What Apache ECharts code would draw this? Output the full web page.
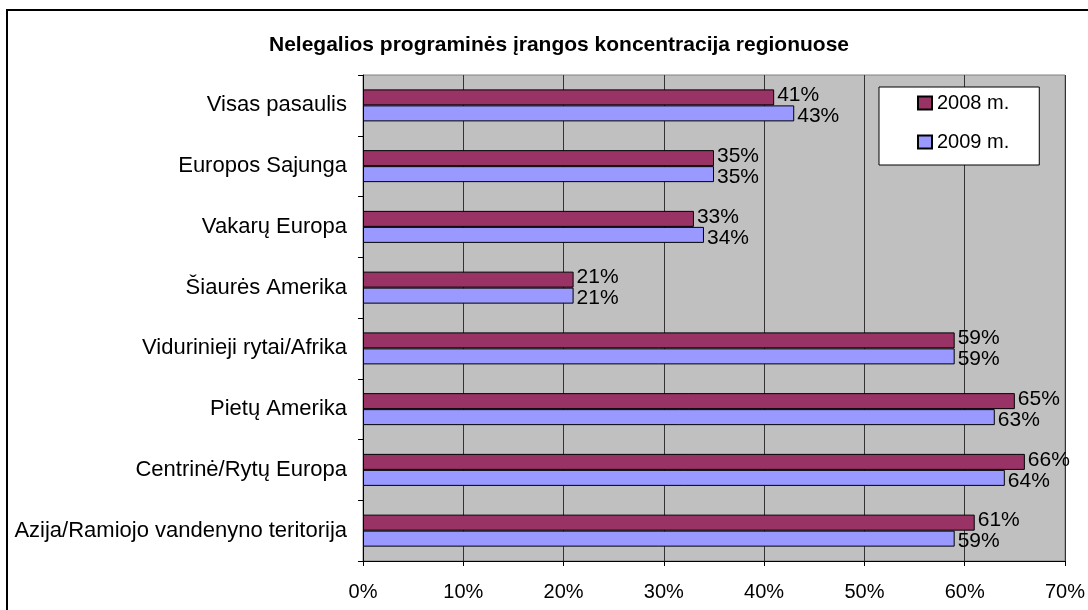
<!DOCTYPE html>
<html>
<head>
<meta charset="utf-8">
<script src="https://cdn.jsdelivr.net/npm/echarts@6/dist/echarts.min.js"></script>
<style>
  html, body { margin: 0; padding: 0; background: #fff; }
  #chart { width: 1088px; height: 610px; }
</style>
</head>
<body>
<div id="chart"></div>
<script>
// regionai, nuo viršaus į apačią
const regions = [
  "Visas pasaulis",
  "Europos Sajunga",
  "Vakarų Europa",
  "Šiaurės Amerika",
  "Vidurinieji rytai/Afrika",
  "Pietų Amerika",
  "Centrinė/Rytų Europa",
  "Azija/Ramiojo vandenyno teritorija"
];
const values2008 = [41, 35, 33, 21, 59, 65, 66, 61];
const values2009 = [43, 35, 34, 21, 59, 63, 64, 59];
const seriesNames = ["2008 m.", "2009 m."];

const FONT = "Liberation Sans, Arial, sans-serif";

const myChart = echarts.init(document.getElementById("chart"));

function barSeries(name, data, color, dy) {
  return {
    name: name,
    type: "bar",
    data: data,
    barWidth: 16,
    barGap: "0%",
    itemStyle: { color: color, borderColor: "#000", borderWidth: 1 },
    label: {
      show: true,
      position: "right",
      distance: 3,
      offset: [0, dy],
      formatter: "{c}%",
      color: "#000",
      fontSize: 21,
      fontFamily: FONT
    }
  };
}

myChart.setOption({
  animation: false,
  textStyle: { fontFamily: FONT },
  title: {
    text: "Nelegalios programinės įrangos koncentracija regionuose",
    left: 554,
    textAlign: "center",
    top: 30,
    textStyle: { fontSize: 21, fontWeight: "bold", color: "#000", fontFamily: FONT }
  },
  legend: {
    orient: "vertical",
    left: 879,
    top: 87,
    padding: [6, 30, 13, 38],
    itemGap: 19,
    itemWidth: 14,
    itemHeight: 13,
    icon: "rect",
    backgroundColor: "#fff",
    borderColor: "#000",
    borderWidth: 1,
    textStyle: { fontSize: 20, color: "#000", fontFamily: FONT, lineHeight: 20 },
    data: seriesNames
  },
  graphic: [{
    type: "rect",
    z: 100,
    silent: true,
    shape: { x: 7, y: 10, width: 1200, height: 700 },
    style: { fill: "none", stroke: "#000", lineWidth: 2 }
  }],
  grid: {
    left: 363,
    right: 14,
    top: 75,
    bottom: 49,
    show: true,
    backgroundColor: "#c0c0c0",
    borderColor: "#808080",
    borderWidth: 1
  },
  xAxis: {
    type: "value",
    min: 0,
    max: 70,
    interval: 10,
    axisLine: { show: true, lineStyle: { color: "#000" } },
    axisTick: { show: true, length: 5, lineStyle: { color: "#000" } },
    axisLabel: { formatter: "{value}%", fontSize: 20, color: "#000", margin: 21, fontFamily: FONT },
    splitLine: { show: true, lineStyle: { color: "#333", width: 1 } }
  },
  yAxis: {
    type: "category",
    inverse: true,
    data: regions,
    axisLine: { show: true, lineStyle: { color: "#000" } },
    axisTick: { show: true, length: 5, lineStyle: { color: "#000" } },
    axisLabel: { fontSize: 22, color: "#000", margin: 16, fontFamily: FONT },
    splitLine: { show: false }
  },
  series: [
    barSeries(seriesNames[0], values2008, "#993366", -2),
    barSeries(seriesNames[1], values2009, "#9999ff", 3)
  ]
});
</script>
</body>
</html>
